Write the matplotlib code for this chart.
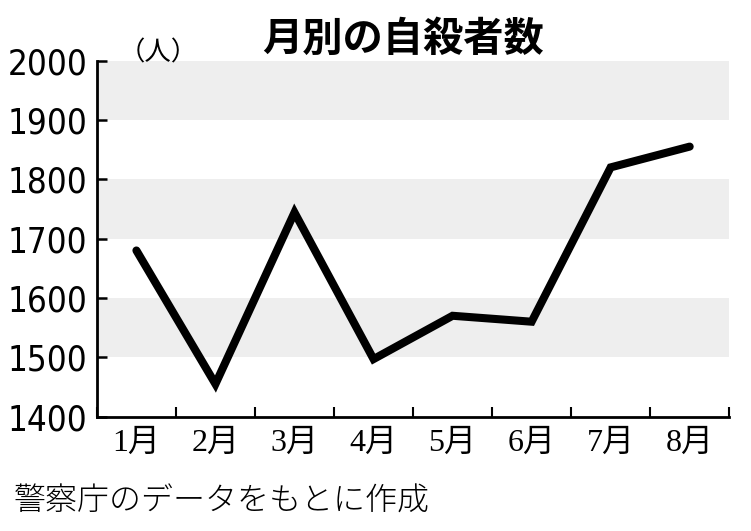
import matplotlib
matplotlib.use("Agg")
import matplotlib.pyplot as plt
from matplotlib.ticker import FixedLocator

# データ
months = ["1月", "2月", "3月", "4月", "5月", "6月", "7月", "8月"]
suicides = [1680, 1455, 1744, 1497, 1570, 1560, 1820, 1855]
y_ticks = [1400, 1500, 1600, 1700, 1800, 1900, 2000]
bands = [(1500, 1600), (1700, 1800), (1900, 2000)]

jp = ["Noto Sans CJK JP", "DejaVu Sans"]
plt.rcParams["font.family"] = jp

fig = plt.figure(figsize=(7.51, 5.31), dpi=100)
ax = fig.add_axes([0.129, 0.2153, 0.842, 0.6707])

# 背景の縞
for lo, hi in bands:
    ax.axhspan(lo, hi, color="#eeeeee", lw=0, zorder=0)

x = list(range(len(months)))
ax.plot(x, suicides, color="black", lw=5.8, solid_capstyle="round",
        solid_joinstyle="miter", zorder=3)

ax.set_xlim(-0.5, len(months) - 0.5)
ax.set_ylim(1400, 2000)

for s in ["top", "right"]:
    ax.spines[s].set_visible(False)
for s in ["left", "bottom"]:
    ax.spines[s].set_linewidth(2.0)

# y軸
ax.set_yticks(y_ticks)
ax.set_yticklabels([str(v) for v in y_ticks], family=["DejaVu Sans"],
                   fontstretch="condensed", fontsize=25)
ax.tick_params(axis="y", direction="in", length=7, width=1.8, pad=7)

# x軸: 区切りに目盛、月名は中央
ax.xaxis.set_major_locator(FixedLocator([i + 0.5 for i in range(-1, len(months))]))
ax.xaxis.set_major_formatter(plt.NullFormatter())
ax.xaxis.set_minor_locator(FixedLocator(x))
ax.set_xticklabels(months, minor=True, family=["Liberation Serif", "Noto Sans CJK JP"],
                   fontsize=23)
ax.tick_params(axis="x", which="major", direction="in", length=7, width=1.5)
ax.tick_params(axis="x", which="minor", length=0, pad=9)

# テキスト
fig.text(0.536, 0.925, "月別の自殺者数", ha="center", va="center",
         fontsize=29, fontweight="bold")
fig.text(0.158, 0.9, "（人）", ha="left", va="center", fontsize=19)
fig.text(0.018, 0.055, "警察庁のデータをもとに作成", ha="left", va="center",
         fontsize=23, fontweight="light")

fig.savefig("out.png", dpi=100)
